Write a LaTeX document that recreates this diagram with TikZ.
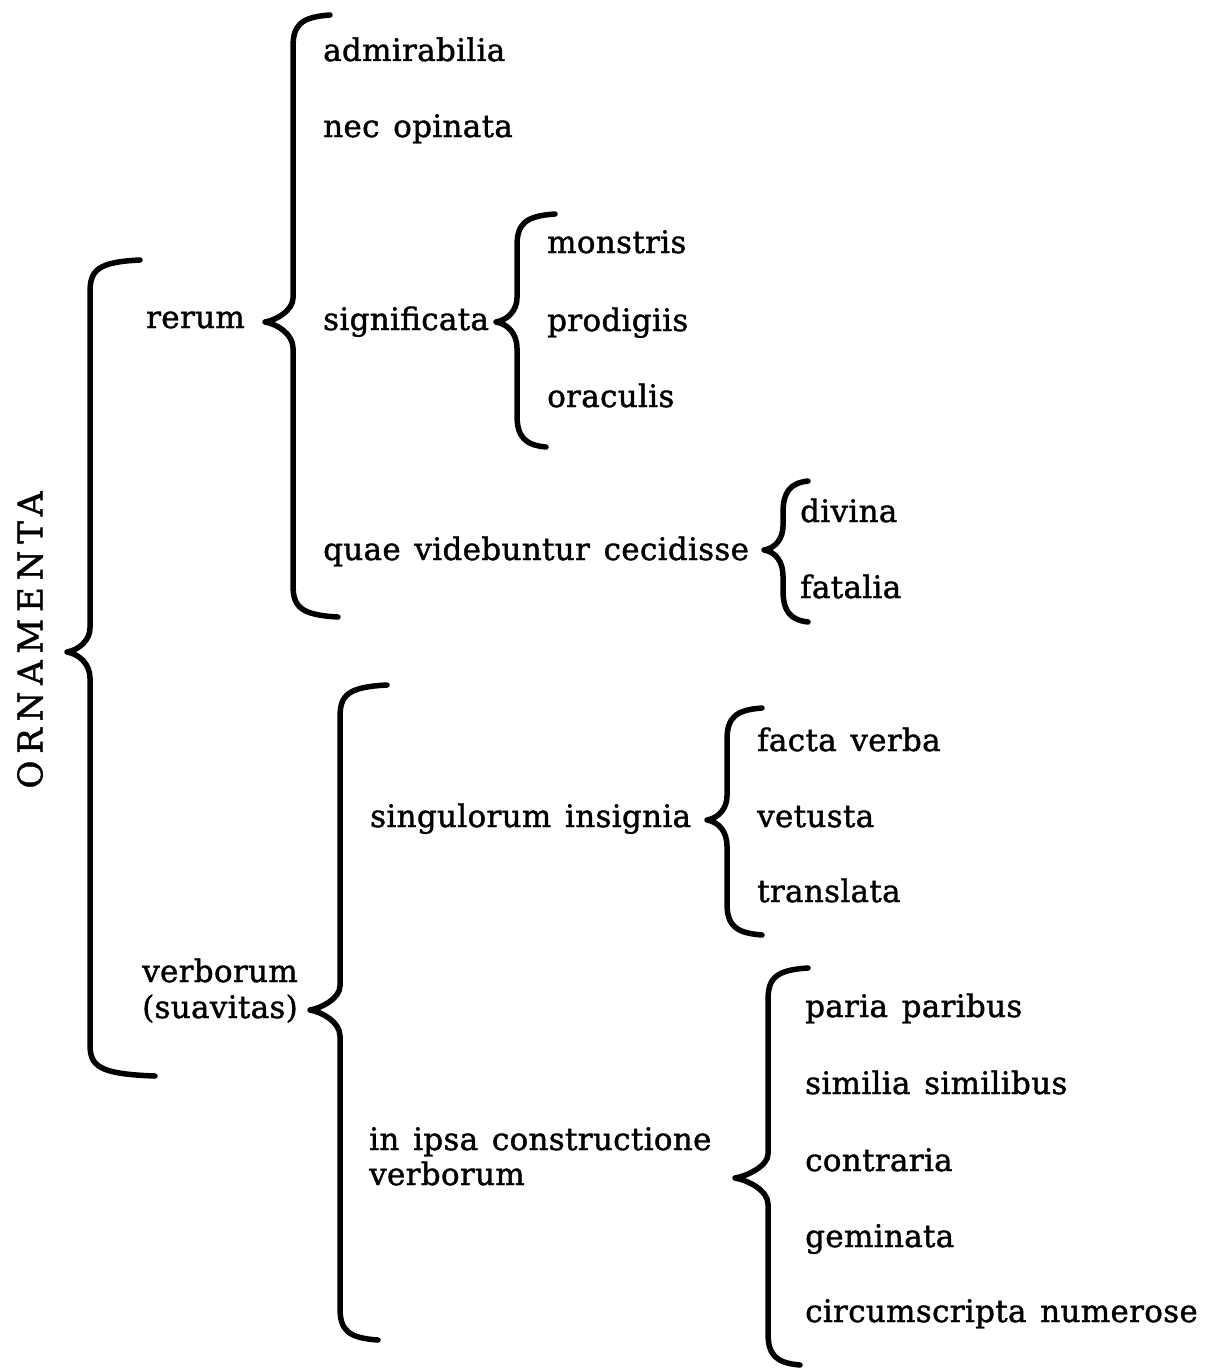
\documentclass[tikz,border=0pt]{standalone}
\usepackage{fontspec}
\setmainfont{DejaVu Serif}[WordSpace=1.35, FakeBold=1.3, LetterSpace=1]
\newcommand\mybrace[7]{%
  \draw[br] (#3,#2) .. controls ({#1+8},{#2+2}) and (#1,{#2+10}) .. (#1,{#2+32})
    -- (#1,{#5-24})
    .. controls (#1,{#5-12}) and ({#4+12},{#5-2}) .. (#4,#5)
    .. controls ({#4+12},{#5+2}) and (#1,{#5+12}) .. (#1,{#5+26})
    -- (#1,{#6-32})
    .. controls (#1,{#6-10}) and ({#1+8},{#6-2}) .. (#7,#6);}
\begin{document}
\begin{tikzpicture}[x=1pt,y=-1pt,
  br/.style={line width=5.5pt, line cap=round, line join=round},
  lbl/.style={inner sep=0pt, anchor=base west, font=\fontsize{31}{37}\selectfont, align=left}]
\useasboundingbox (0,0) rectangle (1220,1370);
% labels
\node[lbl] (adm) at (323,61) {admirabilia};
\node[lbl] (nec) at (323,137) {nec opinata};
\node[lbl] (rer) at (146,328) {rerum};
\node[lbl] (sig) at (323,330) {significata};
\node[lbl] (mon) at (547,253) {monstris};
\node[lbl] (pro) at (547,331) {prodigiis};
\node[lbl] (ora) at (547,407) {oraculis};
\node[lbl] (qua) at (323,560) {quae videbuntur cecidisse};
\node[lbl] (div) at (800,522) {divina};
\node[lbl] (fat) at (800,598) {fatalia};
\node[lbl] (sin) at (370,827) {singulorum insignia};
\node[lbl] (fac) at (757,751) {facta verba};
\node[lbl] (vet) at (757,827) {vetusta};
\node[lbl] (tra) at (757,902) {translata};
\node[lbl] (ver) at (142,1018) {verborum\\[-1pt](suavitas)};
\node[lbl] (ips) at (369,1185) {in ipsa constructione\\[-2pt]verborum};
\node[lbl] (par) at (805,1017) {paria paribus};
\node[lbl] (sim) at (805,1094) {similia similibus};
\node[lbl] (con) at (805,1171) {contraria};
\node[lbl] (gem) at (805,1247) {geminata};
\node[lbl] (cir) at (805,1322) {circumscripta numerose};
\node[inner sep=0pt, rotate=90, font=\fontsize{34}{40}\selectfont] (orn) at (30,640)
  {\addfontfeatures{LetterSpace=20}ORNAMENTA};
% braces: spine x, top y, top end x, tip x, tip y, bottom y, bottom end x
\mybrace{90}{260}{140}{67}{652}{1076}{155}
\mybrace{293}{15}{330}{265}{322}{617}{338}
\mybrace{517}{214}{555}{496}{322}{447}{546}
\mybrace{783}{481}{808}{764}{550}{622}{808}
\mybrace{340}{685}{387}{310}{1010}{1340}{378}
\mybrace{727}{708}{762}{707}{820}{935}{762}
\mybrace{768}{968}{808}{735}{1178}{1365}{800}
\end{tikzpicture}
\end{document}
